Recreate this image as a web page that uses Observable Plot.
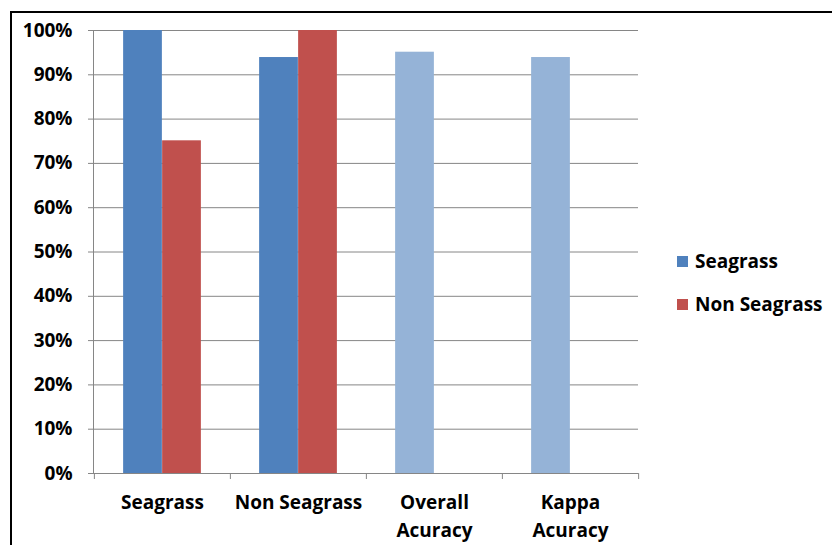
<!DOCTYPE html>
<html>
<head>
<meta charset="utf-8">
<script src="https://cdn.jsdelivr.net/npm/d3@7"></script>
<script src="https://cdn.jsdelivr.net/npm/@observablehq/plot@0.6"></script>
<style>
  html, body { margin: 0; padding: 0; background: #fff; }
  #wrap { position: relative; width: 832px; height: 545px; overflow: hidden; font-family: "Open Sans", sans-serif; }
  #border { position: absolute; left: 10px; top: 11px; width: 900px; height: 600px; border-top: 2px solid #000; border-left: 2px solid #000; }
  #chart { position: absolute; left: 0; top: 0; }
  .legend { position: absolute; left: 677px; font-weight: 700; font-size: 19px; color: #000; display: flex; align-items: center; }
  .legend span.sw { display: inline-block; width: 11px; height: 11px; margin-right: 7px; }
</style>
</head>
<body>
<div id="wrap">
  <div id="border"></div>
  <div id="chart"></div>
  <div id="legend"></div>
</div>
<script>
// Data
const categories = ["Seagrass", "Non Seagrass", "Overall\nAcuracy", "Kappa\nAcuracy"];
const seagrassValues = [1.00, 0.939, null, null];
const nonSeagrassValues = [0.751, 1.00, null, null];
const accuracyValues = [null, null, 0.951, 0.939];
const yTicks = [0, 0.1, 0.2, 0.3, 0.4, 0.5, 0.6, 0.7, 0.8, 0.9, 1.0];
const seriesNames = ["Seagrass", "Non Seagrass"];
const colors = {blue: "#4F81BD", red: "#C0504D", light: "#95B3D7"};

const rowsOf = (vals) => categories.map((c, i) => ({category: c, value: vals[i]})).filter(d => d.value != null);

const bw = 545 / 4; // band width (px) given the fixed plot size
const slot = 39;    // bar width
const outer = (bw - 2 * slot) / 2;

const plot = Plot.plot({
  width: 832,
  height: 545,
  marginLeft: 93,
  marginRight: 194,
  marginTop: 30,
  marginBottom: 72,
  style: {fontFamily: "Open Sans, sans-serif", background: "transparent", overflow: "visible"},
  x: {domain: categories, padding: 0, label: null},
  y: {domain: [0, 1], label: null},
  marks: [
    Plot.gridY(yTicks, {stroke: "#868686", strokeOpacity: 1, strokeWidth: 1}),
    Plot.barY(rowsOf(seagrassValues), {x: "category", y: "value", fill: colors.blue, insetLeft: outer, insetRight: outer + slot}),
    Plot.barY(rowsOf(nonSeagrassValues), {x: "category", y: "value", fill: colors.red, insetLeft: outer + slot, insetRight: outer}),
    Plot.barY(rowsOf(accuracyValues), {x: "category", y: "value", fill: colors.light, insetLeft: outer, insetRight: outer + slot}),
    Plot.ruleY([0], {stroke: "#868686", strokeWidth: 1}),
    Plot.frame({anchor: "left", stroke: "#868686", strokeWidth: 1}),
    Plot.axisY(yTicks, {tickFormat: d3.format(".0%"), tickSize: 5, tickPadding: 16, stroke: "#868686", fontSize: 19, fontWeight: 700, fill: "#000", label: null}),
    Plot.axisX({tickSize: 0, tickPadding: 15, fontSize: 19, fontWeight: 700, fill: "#000", lineHeight: 1.5, label: null}),
    Plot.axisX({tickSize: 6, tickFormat: () => "", dx: -bw / 2, stroke: "#868686", label: null}),
    Plot.axisX(categories.slice(-1), {tickSize: 6, tickFormat: () => "", dx: bw / 2, stroke: "#868686", label: null})
  ]
});
document.getElementById("chart").appendChild(plot);

// Legend
const legendColors = [colors.blue, colors.red];
const legendTops = [248, 291];
const legend = document.getElementById("legend");
seriesNames.forEach((name, i) => {
  const div = document.createElement("div");
  div.className = "legend";
  div.style.top = legendTops[i] + "px";
  const sw = document.createElement("span");
  sw.className = "sw";
  sw.style.background = legendColors[i];
  div.appendChild(sw);
  div.appendChild(document.createTextNode(name));
  legend.appendChild(div);
});
</script>
</body>
</html>
